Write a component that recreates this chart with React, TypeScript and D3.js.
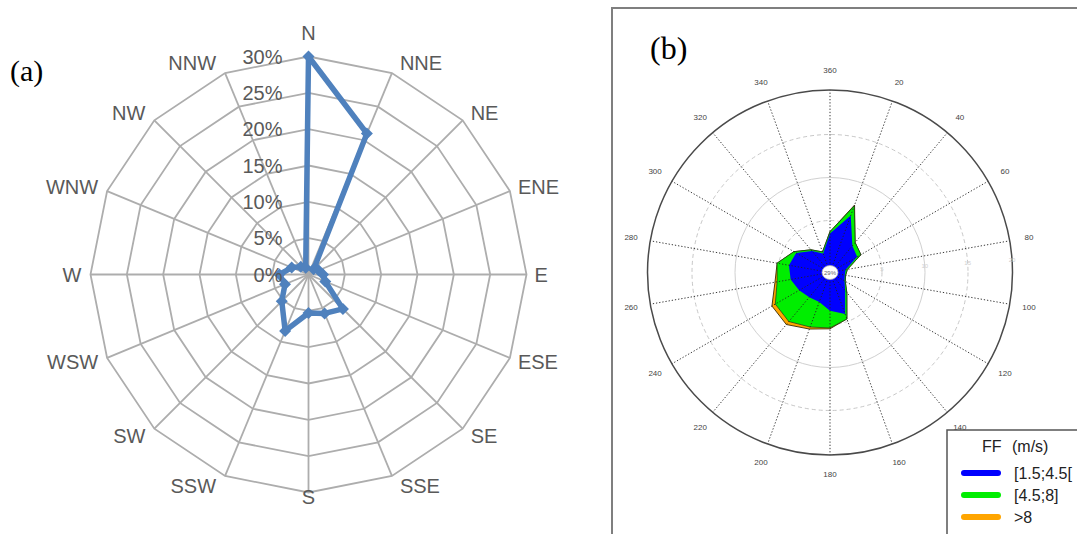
import React from 'react';
import * as d3 from 'd3';

// ---------- Panel (a) data ----------
const dirLabels = ["N", "NNE", "NE", "ENE", "E", "ESE", "SE", "SSE", "S", "SSW", "SW", "WSW", "W", "WNW", "NW", "NNW"];
const freqA = [30, 21, 1, 1.5, 2, 2.5, 6.7, 5.8, 5.3, 8.4, 5.2, 3.5, 4, 2.5, 1.5, 1];
const ringTicksA = [0, 5, 10, 15, 20, 25, 30];

// ---------- Panel (b) data ----------
const anglesB = [0, 20, 40, 60, 80, 100, 120, 140, 160, 180, 200, 220, 240, 260, 280, 300, 320, 340];
const angleTickLabels = ["360", "20", "40", "60", "80", "100", "120", "140", "160", "180", "200", "220", "240", "260", "280", "300", "320", "340"];
const blueB = [3.5, 6.0, 3.0, 2.6, 0.8, 0.7, 0.9, 1.7, 4.1, 3.4, 2.6, 2.7, 3.1, 3.6, 3.8, 3.5, 2.2, 1.3];
const greenB = [0.2, 1.2, 0.5, 0.5, 0.2, 0.1, 0.1, 0.3, 0.6, 2.0, 3.1, 3.7, 3.2, 1.6, 1.4, 0.3, 0.2, 0.2];
const orangeB = [0, 0.1, 0, 0, 0, 0, 0, 0, 0, 0.1, 0.25, 0.45, 0.45, 0.25, 0, 0, 0, 0];
const radialTicksB = [5, 10, 15, 20];
const radialTickText = ["5", "10", "15", "20"];
const calmLabel = "29%";
const legendTitle = ["FF", "(m/s)"];
const legendLabels = ["[1.5;4.5[", "[4.5;8]", ">8"];
const legendColors = ["#0000FF", "#00EE00", "#FFA500"];

const TAU = Math.PI * 2;

function PanelA() {
  const cx = 308.5, cy = 274.5;
  const r = d3.scaleLinear().domain([0, 30]).range([0, 218]);
  const n = dirLabels.length;
  const ang = (i: number) => (i * TAU) / n;
  const ringLine = d3.lineRadial<number>().angle((_, i) => ang(i)).radius(d => r(d)).curve(d3.curveLinearClosed);
  const dataLine = d3.lineRadial<number>().angle((_, i) => ang(i)).radius(d => r(d)).curve(d3.curveLinearClosed);
  const diamond = d3.symbol().type(d3.symbolSquare).size(72);
  const font = "'Liberation Sans', Arial, sans-serif";
  return (
    <g>
      <text x={10} y={81} fontFamily="'Liberation Serif', 'Times New Roman', serif" fontSize={30} fill="#000">(a)</text>
      <g transform={`translate(${cx},${cy})`}>
        {ringTicksA.filter(t => t > 0).map(t => (
          <path key={t} d={ringLine(d3.range(n).map(() => t)) || ''} fill="none" stroke="#ADADAD" strokeWidth={1.8} />
        ))}
        {dirLabels.map((_, i) => {
          const a = ang(i);
          return <line key={i} x1={0} y1={0} x2={r(30) * Math.sin(a)} y2={-r(30) * Math.cos(a)} stroke="#ADADAD" strokeWidth={1.8} />;
        })}
        <path d={dataLine(freqA) || ''} fill="none" stroke="#4F81BD" strokeWidth={5.5} strokeLinejoin="round" />
        {freqA.map((v, i) => {
          const a = ang(i);
          return <path key={i} d={diamond() || ''} transform={`translate(${r(v) * Math.sin(a)},${-r(v) * Math.cos(a)}) rotate(45)`} fill="#4F81BD" />;
        })}
        {ringTicksA.map(t => (
          <text key={t} x={-26} y={-r(t)} textAnchor="end" dominantBaseline="central" fontFamily={font} fontSize={20} fill="#595959">{`${t}%`}</text>
        ))}
        {dirLabels.map((lab, i) => {
          const a = ang(i);
          const s = Math.sin(a), c = Math.cos(a);
          const vx = r(30) * s, vy = -r(30) * c;
          let anchor = 'middle', x = vx, y = vy - c * 11;
          if (s > 0.1) { anchor = 'start'; x = vx + 8; }
          else if (s < -0.1) { anchor = 'end'; x = vx - 9; }
          else { y = vy + (c > 0 ? -24 : 4); }
          return <text key={lab} x={x} y={y} textAnchor={anchor as any} dominantBaseline="central" fontFamily={font} fontSize={20} fill="#595959">{lab}</text>;
        })}
      </g>
    </g>
  );
}

function PanelB() {
  const cx = 830, cy = 272.5;
  const r0 = 9;
  const r = d3.scaleLinear().domain([0, 20]).range([r0, 181]);
  const rad = (deg: number) => (deg * Math.PI) / 180;
  const cumGreen = blueB.map((b, i) => b + greenB[i]);
  const cumTotal = cumGreen.map((g, i) => g + orangeB[i]);
  const rose = d3.lineRadial<number>().angle((_, i) => rad(anglesB[i])).radius(d => r(d)).curve(d3.curveLinearClosed);
  const font = "'Liberation Sans', Arial, sans-serif";
  const outerR = r(20) + 1.5;
  return (
    <g>
      <path d="M612,540 L612,8 L1090,8" fill="none" stroke="#7F7F7F" strokeWidth={2} />
      <text x={650} y={59} fontFamily="'Liberation Serif', 'Times New Roman', serif" fontSize={32} fill="#000">(b)</text>
      <g transform={`translate(${cx},${cy})`}>
        {radialTicksB.slice(0, 3).map((t, k) => (
          <circle key={t} r={r(t)} fill="none" stroke={k === 1 ? '#D0D0D0' : '#C8C8C8'} strokeWidth={1} strokeDasharray={k === 1 ? undefined : '4,3'} />
        ))}
        <path d={rose(cumTotal) || ''} fill="#FFA500" stroke="#3a2a00" strokeWidth={0.9} />
        <path d={rose(cumGreen) || ''} fill="#00EE00" stroke="#1a3a1a" strokeWidth={0.7} />
        <path d={rose(blueB) || ''} fill="#0000FF" stroke="none" />
        {anglesB.map(a => (
          <line key={a} x1={r0 * Math.sin(rad(a))} y1={-r0 * Math.cos(rad(a))} x2={outerR * Math.sin(rad(a))} y2={-outerR * Math.cos(rad(a))} stroke="#222" strokeWidth={0.9} strokeDasharray="1.3,1.9" />
        ))}
        <circle r={outerR} fill="none" stroke="#4a4a4a" strokeWidth={1.5} />
        <ellipse rx={8} ry={7} fill="#fff" stroke="#aaa" strokeWidth={0.8} />
        <text x={0} y={0.5} textAnchor="middle" dominantBaseline="central" fontFamily={font} fontSize={6} fill="#666">{calmLabel}</text>
        {radialTicksB.map((t, k) => {
          const a = rad(86);
          const rr = k === 3 ? outerR : r(t);
          return <text key={t} x={rr * Math.sin(a)} y={-rr * Math.cos(a)} textAnchor="middle" dominantBaseline="central" fontFamily={font} fontSize={6} fill="#cfcfcf">{radialTickText[k]}</text>;
        })}
        {anglesB.map((a, i) => (
          <text key={a} x={202 * Math.sin(rad(a))} y={-202 * Math.cos(rad(a))} textAnchor="middle" dominantBaseline="central" fontFamily={font} fontSize={8} fill="#444">{angleTickLabels[i]}</text>
        ))}
      </g>
      <rect x={947} y={430} width={160} height={120} fill="#fff" stroke="#555" strokeWidth={1.5} />
      <text x={982} y={446} dominantBaseline="central" fontFamily={font} fontSize={16} fill="#222">{legendTitle[0]}</text>
      <text x={1012} y={446} dominantBaseline="central" fontFamily={font} fontSize={16} fill="#222">{legendTitle[1]}</text>
      {legendLabels.map((lab, i) => {
        const y = 473 + i * 22;
        return (
          <g key={lab}>
            <line x1={964} x2={998} y1={y} y2={y} stroke={legendColors[i]} strokeWidth={6} strokeLinecap="round" />
            <text x={1014} y={y} dominantBaseline="central" fontFamily={font} fontSize={16} fill="#222">{lab}</text>
          </g>
        );
      })}
    </g>
  );
}

export default function App() {
  return (
    <svg width={1077} height={534} style={{ position: 'absolute', left: 0, top: 0, background: '#fff' }}>
      <rect width={1077} height={534} fill="#fff" />
      <PanelA />
      <PanelB />
    </svg>
  );
}
